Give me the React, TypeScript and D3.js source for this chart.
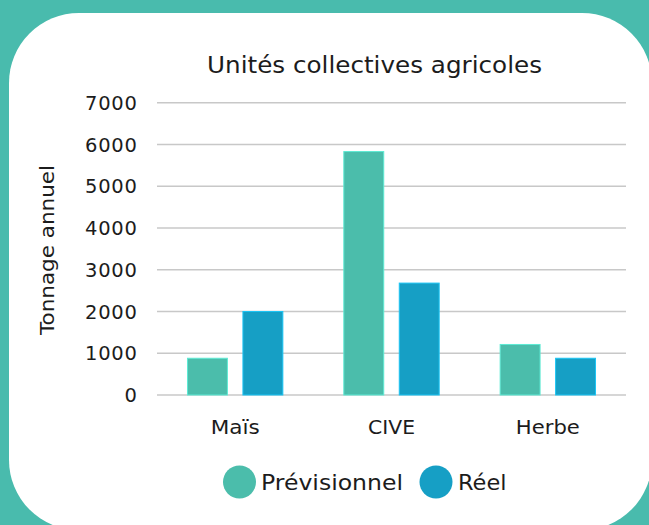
import React from "react";
import * as d3 from "d3";

const categories = ["Maïs", "CIVE", "Herbe"];
const seriesNames = ["Prévisionnel", "Réel"];
const previsionnel = [880, 5830, 1210];
const reel = [2000, 2680, 880];
const yTicks = [0, 1000, 2000, 3000, 4000, 5000, 6000, 7000];
const colors = ["#4bbdab", "#169fc5"];
const titleText = "Unités collectives agricoles";
const yTitle = "Tonnage annuel";

const W = 649;
const H = 525;
const FONT = "'DejaVu Sans', sans-serif";
const INK = "#1c1c1c";

const categoryWidths: Record<string, number> = { "Maïs": 49, CIVE: 47, Herbe: 64 };

export default function App() {
  const x = d3.scaleBand<string>().domain(categories).range([157, 626]).padding(0);
  const bw = x.bandwidth();
  const xi = d3
    .scaleBand<string>()
    .domain(seriesNames)
    .range([bw * 0.195, bw * 0.805])
    .paddingInner(0.28);
  const y = d3.scaleLinear().domain([0, 7000]).range([395, 102.7]);
  const values = [previsionnel, reel];

  return (
    <svg
      width={W}
      height={H}
      style={{ position: "absolute", left: 0, top: 0 }}
      fontFamily={FONT}
    >
      <rect x={0} y={0} width={W} height={H} fill="#49bbad" />
      <rect x={9} y={13} width={643} height={517} rx={70} ry={70} fill="#ffffff" />
      <text
        x={207}
        y={72.5}
        fontSize={23.5}
        fill={INK}
        textLength={335}
        lengthAdjust="spacingAndGlyphs"
      >
        {titleText}
      </text>
      {yTicks.map((t) => (
        <g key={t}>
          <line x1={157} x2={626} y1={y(t)} y2={y(t)} stroke="#c8c8c8" strokeWidth={1.6} />
          <text
            x={137.5}
            y={y(t)}
            dy="0.37em"
            textAnchor="end"
            fontSize={19.5}
            letterSpacing={0.7}
            fill={INK}
          >
            {t}
          </text>
        </g>
      ))}
      <text
        transform={`translate(54,250) rotate(-90)`}
        textAnchor="middle"
        fontSize={20}
        fill={INK}
        textLength={170}
        lengthAdjust="spacingAndGlyphs"
      >
        {yTitle}
      </text>
      {categories.map((c, ci) => (
        <g key={c} transform={`translate(${x(c)},0)`}>
          {seriesNames.map((s, si) => {
            const v = values[si][ci];
            return (
              <rect
                key={s}
                x={xi(s)}
                y={y(v)}
                width={xi.bandwidth()}
                height={y(0) - y(v)}
                fill={colors[si]}
                stroke={d3.color(colors[si])!.brighter(0.6).formatHex()}
                strokeWidth={1}
              />
            );
          })}
          <text
            x={bw / 2}
            y={433.5}
            textAnchor="middle"
            fontSize={19}
            fill={INK}
            textLength={categoryWidths[c]}
            lengthAdjust="spacingAndGlyphs"
          >
            {c}
          </text>
        </g>
      ))}
      <g>
        <circle cx={239.5} cy={482} r={16.5} fill={colors[0]} />
        <text x={261} y={489.5} fontSize={20.5} fill={INK} textLength={142} lengthAdjust="spacingAndGlyphs">
          {seriesNames[0]}
        </text>
        <circle cx={436} cy={482} r={16.5} fill={colors[1]} />
        <text x={458} y={489.5} fontSize={20.5} fill={INK} textLength={48.5} lengthAdjust="spacingAndGlyphs">
          {seriesNames[1]}
        </text>
      </g>
    </svg>
  );
}
